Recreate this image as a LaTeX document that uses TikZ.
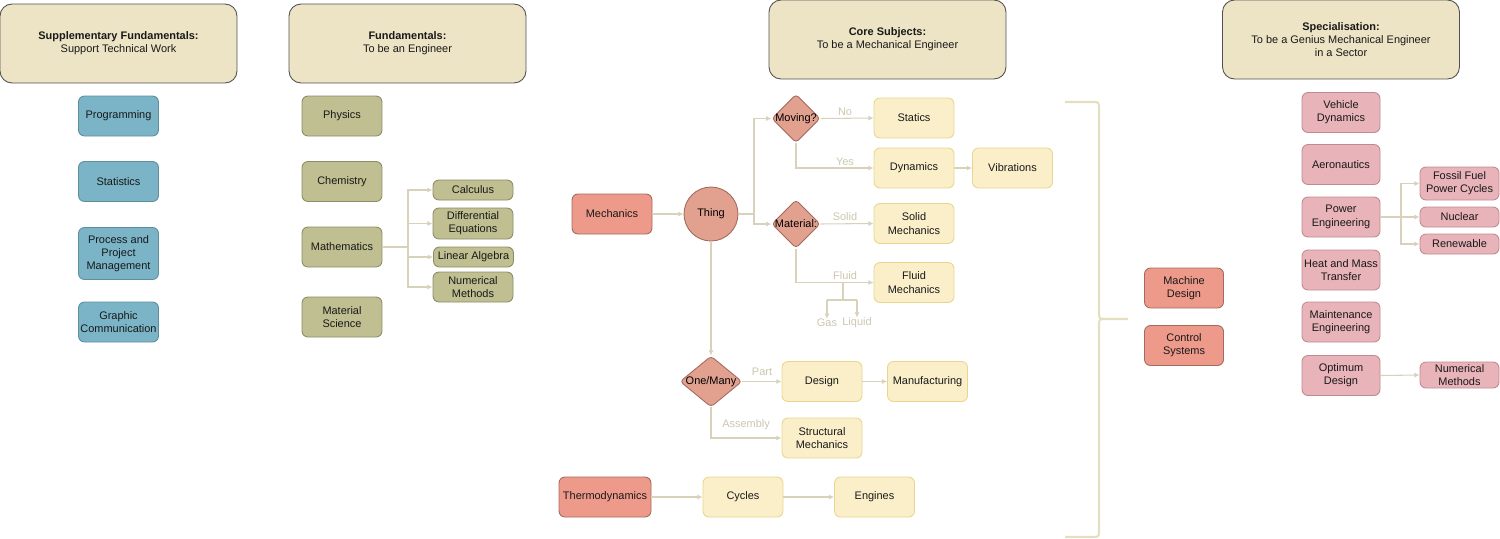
\documentclass[tikz,border=0pt]{standalone}
\usepackage{fontspec}
\setmainfont{Liberation Sans}
\usetikzlibrary{shapes.geometric, arrows.meta}

\definecolor{headfill}{HTML}{EDE4C5}
\definecolor{headline}{HTML}{505050}
\definecolor{bluefill}{HTML}{7AB4C6}
\definecolor{blueline}{HTML}{5E8E9C}
\definecolor{olivefill}{HTML}{BFBF91}
\definecolor{oliveline}{HTML}{8C8C66}
\definecolor{redfill}{HTML}{EE9A8B}
\definecolor{redline}{HTML}{A36A60}
\definecolor{decfill}{HTML}{E2A08F}
\definecolor{yelfill}{HTML}{FBEFCA}
\definecolor{yelline}{HTML}{E9D68E}
\definecolor{pinkfill}{HTML}{E8B3B9}
\definecolor{pinkline}{HTML}{BE8B91}
\definecolor{linkcol}{HTML}{D8D2BA}
\definecolor{lblcol}{HTML}{CCC6AE}
\definecolor{bracecol}{HTML}{E6DFBF}

\begin{document}
\begin{tikzpicture}[x=0.02cm, y=-0.02cm,
    font=\fontsize{6.24}{7.56}\selectfont,
    subjbox/.style={draw, rounded corners=0.12cm, align=center, inner sep=0pt,
        minimum width=1.6cm, minimum height=0.8cm, line width=0.5pt, text=black!90},
    headbox/.style={subjbox, fill=headfill, draw=headline, rounded corners=0.24cm,
        minimum width=4.74cm, minimum height=1.58cm},
    bluebox/.style={subjbox, fill=bluefill, draw=blueline},
    olivebox/.style={subjbox, fill=olivefill, draw=oliveline},
    redbox/.style={subjbox, fill=redfill, draw=redline},
    yelbox/.style={subjbox, fill=yelfill, draw=yelline},
    pinkbox/.style={subjbox, fill=pinkfill, draw=pinkline},
    decide/.style={diamond, draw=redline, fill=decfill, rounded corners=0.07cm,
        inner sep=0pt, line width=0.5pt, minimum width=0.97cm, minimum height=0.97cm},
    link/.style={draw=linkcol, line width=0.6pt},
    linkarrow/.style={link, -{Latex[length=3pt,width=3pt]}},
    lbl/.style={text=lblcol, inner sep=0pt}
]
    \useasboundingbox (0,0) rectangle (1500,538);

    % headers
    \node[headbox] (hsupp) at (118.5,43.5) {\textbf{Supplementary Fundamentals:}\\Support Technical Work};
    \node[headbox] (hfund) at (407.5,43.5) {\textbf{Fundamentals:}\\To be an Engineer};
    \node[headbox] (hcore) at (887.5,39.5) {\textbf{Core Subjects:}\\To be a Mechanical Engineer};
    \node[headbox] (hspec) at (1341,39.5) {\textbf{Specialisation:}\\To be a Genius Mechanical Engineer\\in a Sector};

    % supplementary
    \node[bluebox] (prog) at (118.5,116) {Programming};
    \node[bluebox] (stat) at (118.5,181.5) {Statistics};
    \node[bluebox, minimum height=1.04cm] (ppm) at (118.5,253.5) {Process and\\Project\\Management};
    \node[bluebox] (graph) at (118.5,322) {Graphic\\Communication};

    % fundamentals
    \node[olivebox] (phys) at (342,116) {Physics};
    \node[olivebox] (chem) at (342,181.5) {Chemistry};
    \node[olivebox] (math) at (342,247) {Mathematics};
    \node[olivebox] (matsci) at (342,317) {Material\\Science};
    \node[olivebox, minimum height=0.4cm] (calc) at (473,190) {Calculus};
    \node[olivebox, minimum height=0.62cm] (diffeq) at (473,223.5) {Differential\\Equations};
    \node[olivebox, minimum height=0.4cm] (linalg) at (473.5,257) {Linear Algebra};
    \node[olivebox, minimum height=0.6cm] (nummeth) at (473,287) {Numerical\\Methods};
    \coordinate (mfork) at (408,247);
    \draw[link] (math.east) -- (mfork);
    \foreach \t in {calc, diffeq, linalg, nummeth}
        \draw[linkarrow] (mfork) |- (\t.west);

    % core: mechanics
    \node[redbox] (mech) at (612,214) {Mechanics};
    \node[circle, draw=redline, fill=decfill, line width=0.5pt, minimum size=1.08cm, inner sep=0pt] (thing) at (711,214) {Thing};
    \node[decide] (moving) at (796,118.5) {\makebox[0pt]{Moving?}};
    \node[decide] (material) at (796,224) {\makebox[0pt]{Material:}};
    \node[yelbox] (statics) at (914,118) {Statics};
    \node[yelbox] (dyn) at (914,168) {Dynamics};
    \node[yelbox] (vib) at (1012.5,168) {Vibrations};
    \node[yelbox] (solid) at (914,223.5) {Solid\\Mechanics};
    \node[yelbox] (fluid) at (914,282.5) {Fluid\\Mechanics};
    \coordinate (tfork) at (754,214);
    \draw[linkarrow] (mech) -- (thing);
    \draw[link] (thing.east) -- (tfork);
    \draw[linkarrow] (tfork) |- (moving.west);
    \draw[linkarrow] (tfork) |- (material.west);
    \draw[linkarrow] (moving.east) -- (statics.west);
    \draw[linkarrow] (moving.south) |- (dyn.west);
    \draw[linkarrow] (dyn) -- (vib);
    \draw[linkarrow] (material.east) -- (solid.west);
    \draw[linkarrow] (material.south) |- (fluid.west);
    \node[lbl] (lno) at (845,112) {No};
    \node[lbl] (lyes) at (845,162) {Yes};
    \node[lbl] (lsolid) at (845,217) {Solid};
    \node[lbl] (lfluid) at (845,276) {Fluid};
    \node[lbl] (gas) at (827,323) {Gas};
    \node[lbl] (liquid) at (857,323) {Liquid};
    \coordinate (ffork) at (843,300);
    \draw[link] (843,282.5) -- (ffork);
    \draw[link] (827,300) -- (857,300);
    \draw[linkarrow] (827,300) -- (gas.north);
    \draw[linkarrow] (857,300) -- (liquid.north);

    % core: design
    \node[decide, minimum width=1.24cm, minimum height=1.02cm] (onemany) at (711,381.5) {\makebox[0pt]{One/Many}};
    \node[yelbox] (design) at (822,381.5) {Design};
    \node[yelbox] (manuf) at (927.5,381.5) {Manufacturing};
    \node[yelbox] (struct) at (822,438) {Structural\\Mechanics};
    \draw[linkarrow] (thing.south) -- (onemany.north);
    \draw[linkarrow] (onemany.east) -- (design.west);
    \draw[linkarrow] (onemany.south) |- (struct.west);
    \draw[linkarrow] (design) -- (manuf);
    \node[lbl] (lpart) at (762,372) {Part};
    \node[lbl] (lassy) at (746,425) {Assembly};

    % core: thermo
    \node[redbox, minimum width=1.84cm] (thermo) at (605,497) {Thermodynamics};
    \node[yelbox] (cycles) at (743,497) {Cycles};
    \node[yelbox] (engines) at (874.5,497) {Engines};
    \draw[linkarrow] (thermo) -- (cycles);
    \draw[linkarrow] (cycles) -- (engines);

    % brace
    \draw[bracecol, line width=1.2pt] (1065,102) -- (1092,102) .. controls (1099,102) .. (1099,109)
        -- (1099,312) .. controls (1099,319) .. (1106,319) -- (1128,319);
    \draw[bracecol, line width=1.2pt] (1106,319) .. controls (1099,319) .. (1099,326)
        -- (1099,530) .. controls (1099,537) .. (1092,537) -- (1065,537);
    \node[redbox, minimum width=1.58cm] (machdes) at (1184,288) {Machine\\Design};
    \node[redbox, minimum width=1.58cm] (ctrl) at (1184,345.5) {Control\\Systems};

    % specialisation
    \node[pinkbox, minimum width=1.56cm] (veh) at (1341,112.5) {Vehicle\\Dynamics};
    \node[pinkbox, minimum width=1.56cm] (aero) at (1341,164.5) {Aeronautics};
    \node[pinkbox, minimum width=1.56cm] (power) at (1341,217) {Power\\Engineering};
    \node[pinkbox, minimum width=1.56cm] (heat) at (1341,270) {Heat and Mass\\Transfer};
    \node[pinkbox, minimum width=1.56cm] (maint) at (1341,322) {Maintenance\\Engineering};
    \node[pinkbox, minimum width=1.56cm] (optim) at (1341,375.5) {Optimum\\Design};
    \node[pinkbox, minimum width=1.58cm, minimum height=0.66cm] (fossil) at (1459.5,183.5) {Fossil Fuel\\Power Cycles};
    \node[pinkbox, minimum width=1.58cm, minimum height=0.4cm] (nuclear) at (1459.5,217) {Nuclear};
    \node[pinkbox, minimum width=1.58cm, minimum height=0.4cm] (renew) at (1459.5,244) {Renewable};
    \node[pinkbox, minimum width=1.58cm, minimum height=0.52cm] (numopt) at (1459.5,375) {Numerical\\Methods};
    \coordinate (pfork) at (1401,217);
    \draw[link] (power.east) -- (pfork);
    \foreach \t in {fossil, nuclear, renew}
        \draw[linkarrow] (pfork) |- (\t.west);
    \draw[linkarrow] (optim.east) -- (numopt.west);

\end{tikzpicture}
\end{document}
